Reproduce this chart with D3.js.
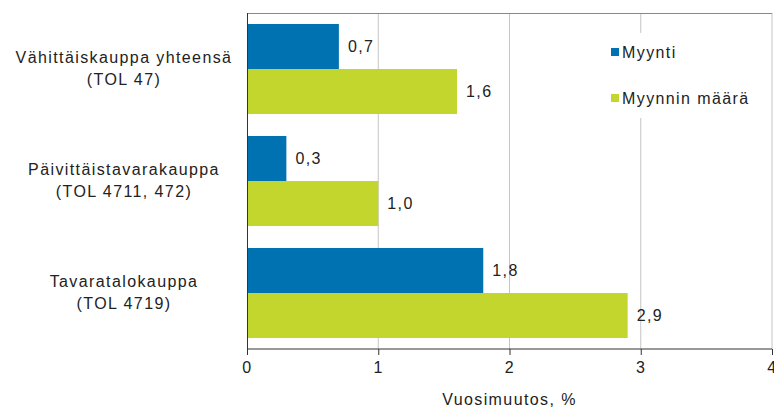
<!DOCTYPE html>
<html>
<head>
<meta charset="utf-8">
<script src="https://cdn.jsdelivr.net/npm/d3@7"></script>
<style>
  body { margin: 0; background: #fff; }
  text { font-family: "Liberation Sans", Arial, sans-serif; fill: #222; font-size: 16px; letter-spacing: 1.4px; }
</style>
</head>
<body>
<div id="chart"></div>
<script>
// data
var categories = [["Vähittäiskauppa yhteensä", "(TOL 47)"],
                  ["Päivittäistavarakauppa", "(TOL 4711, 472)"],
                  ["Tavaratalokauppa", "(TOL 4719)"]];
var seriesNames = ["Myynti", "Myynnin määrä"];
var myynti = [0.7, 0.3, 1.8];
var myynninMaara = [1.6, 1.0, 2.9];
var xTicks = [0, 1, 2, 3, 4];
var colors = ["#0072b1", "#c2d62e"];

var width = 774, height = 408;
var margin = {top: 13, left: 247, right: 2, bottom: 59};
var w = width - margin.left - margin.right,
    h = height - margin.top - margin.bottom;

var svg = d3.select("#chart").append("svg")
    .attr("width", width).attr("height", height);
var g = svg.append("g")
    .attr("transform", "translate(" + margin.left + "," + margin.top + ")");

var x = d3.scaleLinear().domain([0, 4]).range([0, w]);
var y0 = d3.scaleBand().domain(d3.range(categories.length)).range([0, h])
    .paddingInner(0.196).paddingOuter(0.098);
var y1 = d3.scaleBand().domain([0, 1]).range([0, y0.bandwidth()]);

// gridlines
g.selectAll(".grid").data(xTicks.slice(1)).enter().append("line")
    .attr("x1", d => x(d)).attr("x2", d => x(d))
    .attr("y1", 0).attr("y2", h)
    .style("stroke", "#c4c4c4").style("stroke-width", 1);

// top frame line
g.append("line").attr("x1", 0).attr("x2", w).attr("y1", 0.5).attr("y2", 0.5)
    .style("stroke", "#888").style("stroke-width", 1);

var rows = categories.map(function(c, i) {
  return [myynti[i], myynninMaara[i]];
});

var groups = g.selectAll(".grp").data(rows).enter().append("g")
    .attr("transform", (d, i) => "translate(0," + y0(i) + ")");

groups.selectAll("rect").data(d => d).enter().append("rect")
    .attr("x", 0).attr("y", (d, j) => y1(j))
    .attr("width", d => x(d)).attr("height", y1.bandwidth())
    .style("fill", (d, j) => colors[j]);

groups.selectAll(".val").data(d => d).enter().append("text")
    .attr("x", d => x(d) + 9).attr("y", (d, j) => y1(j) + y1.bandwidth() / 2)
    .attr("dy", "0.36em")
    .text(d => d3.format(".1f")(d).replace(".", ","));

// category labels
categories.forEach(function(c, i) {
  var t = svg.append("text")
      .attr("text-anchor", "middle")
      .attr("x", 124)
      .attr("y", margin.top + y0(i) + y0.bandwidth() / 2 - 12);
  c.forEach(function(line, k) {
    t.append("tspan").attr("x", 124).attr("dy", k === 0 ? "0.36em" : "1.4em").text(line);
  });
});

// x axis
var xAxis = g.append("g")
    .attr("transform", "translate(0," + h + ")")
    .call(d3.axisBottom(x).tickValues(xTicks).tickFormat(d3.format("d")).tickSize(6).tickPadding(7));
xAxis.selectAll("text").style("font-size", "16px").style("fill", "#222")
    .style("font-family", "Liberation Sans, Arial, sans-serif");
xAxis.selectAll("line").style("stroke", "#333");
xAxis.select(".domain").style("stroke", "#333").attr("d", "M0.5,0H" + w);

// left axis line
g.append("line").attr("x1", 0.5).attr("x2", 0.5).attr("y1", 0).attr("y2", h)
    .style("stroke", "#333");

// axis title
svg.append("text").attr("x", margin.left + x(2)).attr("y", 405)
    .attr("text-anchor", "middle")
    .text("Vuosimuutos, %");

// legend
var legend = svg.append("g").attr("transform", "translate(600,33)");
legend.append("rect").attr("width", 168).attr("height", 85).style("fill", "#fff");
seriesNames.forEach(function(s, i) {
  legend.append("rect").attr("x", 11).attr("y", 15 + i * 46)
      .attr("width", 8).attr("height", 8).style("fill", colors[i]);
  legend.append("text").attr("x", 22).attr("y", 19 + i * 46).attr("dy", "0.36em")
      .text(s);
});
</script>
</body>
</html>
